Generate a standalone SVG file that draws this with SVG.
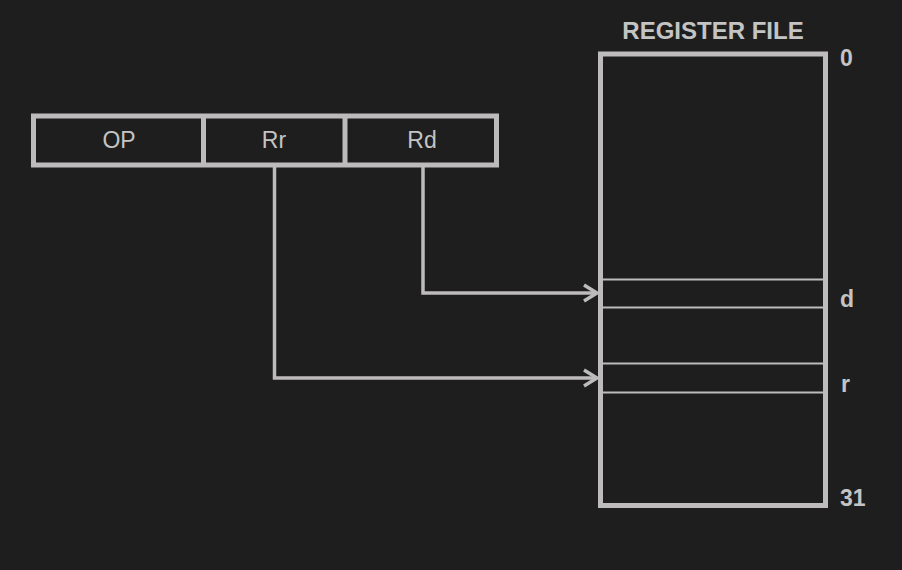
<svg xmlns="http://www.w3.org/2000/svg" width="902" height="570" viewBox="0 0 902 570">
<defs>
<style>
.box{fill:none;stroke:#bdbbbb;stroke-width:5}
.thin{fill:none;stroke:#bdbbbb;stroke-width:2}
.conn{fill:none;stroke:#bdbbbb;stroke-width:3.5}
.t{font-family:"Liberation Sans",Arial,sans-serif;font-size:23px;fill:#c4c4c4}
.lbl{font-family:"Liberation Sans",Arial,sans-serif;font-size:23px;fill:#c4c4c4;font-weight:bold}
</style>
<marker id="arr" markerUnits="userSpaceOnUse" markerWidth="20" markerHeight="20" refX="16" refY="10" orient="auto">
<path d="M3,2 L16,10 L3,18" fill="none" stroke="#bdbbbb" stroke-width="3.5"/>
</marker>
</defs>
<rect width="902" height="570" fill="#1e1e1e"/>
<g id="instruction">
<rect class="box" x="33.5" y="116" width="463" height="49"/>
<line class="box" x1="203.5" y1="116" x2="203.5" y2="165"/>
<line class="box" x1="345" y1="116" x2="345" y2="165"/>
<text class="t" x="119" y="148" text-anchor="middle">OP</text>
<text class="t" x="274" y="148" text-anchor="middle">Rr</text>
<text class="t" x="422" y="148" text-anchor="middle">Rd</text>
</g>
<g id="register-file">
<text class="lbl" x="713" y="39" text-anchor="middle" style="font-size:24px">REGISTER FILE</text>
<rect class="box" x="600.5" y="54" width="225" height="451.5"/>
<line class="thin" x1="603" y1="279.5" x2="823" y2="279.5"/>
<line class="thin" x1="603" y1="307.5" x2="823" y2="307.5"/>
<line class="thin" x1="603" y1="363.5" x2="823" y2="363.5"/>
<line class="thin" x1="603" y1="392.5" x2="823" y2="392.5"/>
<text class="lbl" x="840" y="66">0</text>
<text class="lbl" x="840" y="307">d</text>
<text class="lbl" x="841" y="392">r</text>
<text class="lbl" x="840" y="506">31</text>
</g>
<g id="connectors">
<path class="conn" d="M423,167 V293 H597" marker-end="url(#arr)"/>
<path class="conn" d="M274.5,167 V378 H597" marker-end="url(#arr)"/>
</g>
</svg>
